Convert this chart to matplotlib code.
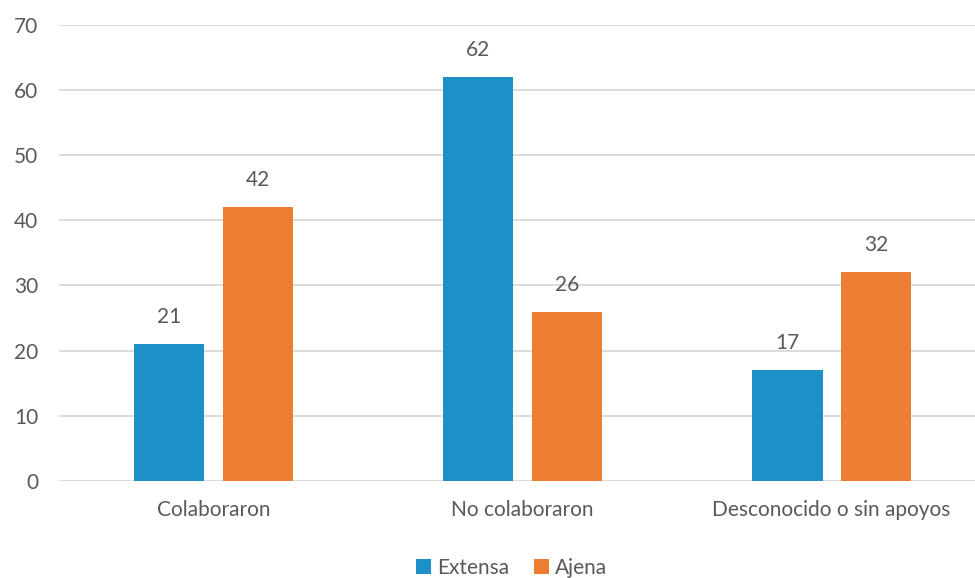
import numpy as np
import matplotlib.pyplot as plt

categories = ['Colaboraron', 'No colaboraron', 'Desconocido o sin apoyos']
extensa = [21, 62, 17]
ajena = [42, 26, 32]

BLUE = '#1E90C8'
ORANGE = '#ED7D31'
GREY = '#595959'

plt.rcParams['font.family'] = ['Lato', 'DejaVu Sans']

fig = plt.figure(figsize=(9.75, 5.78), dpi=100)
ax = fig.add_axes([0.0605, 0.168, 0.951, 0.789])

x = np.arange(len(categories))
w = 0.227
off = 0.143
b1 = ax.bar(x - off, extensa, w, color=BLUE, label='Extensa', zorder=3)
b2 = ax.bar(x + off, ajena, w, color=ORANGE, label='Ajena', zorder=3)

for bars in (b1, b2):
    for r in bars:
        ax.text(r.get_x() + r.get_width() / 2, r.get_height() + 2.6, f'{int(r.get_height())}',
                ha='center', va='bottom', fontsize=15, color=GREY)

ax.set_xlim(-0.5, 2.5)
ax.set_ylim(0, 70)
ax.set_yticks(range(0, 71, 10))
ax.yaxis.grid(True, color='#D9D9D9', linewidth=1.3, zorder=0)
ax.set_axisbelow(True)
for s in ax.spines.values():
    s.set_visible(False)
ax.tick_params(axis='both', length=0, labelsize=15, labelcolor=GREY)
ax.tick_params(axis='y', pad=15)
ax.tick_params(axis='x', pad=14)
ax.set_xticks(x)
ax.set_xticklabels(categories)

fig.legend(loc='lower center', bbox_to_anchor=(0.525, -0.032), ncol=2, frameon=False,
           fontsize=15, labelcolor=GREY, handlelength=0.7, handleheight=0.7,
           handletextpad=0.3, columnspacing=1.2)

fig.savefig('out.png', dpi=100)
